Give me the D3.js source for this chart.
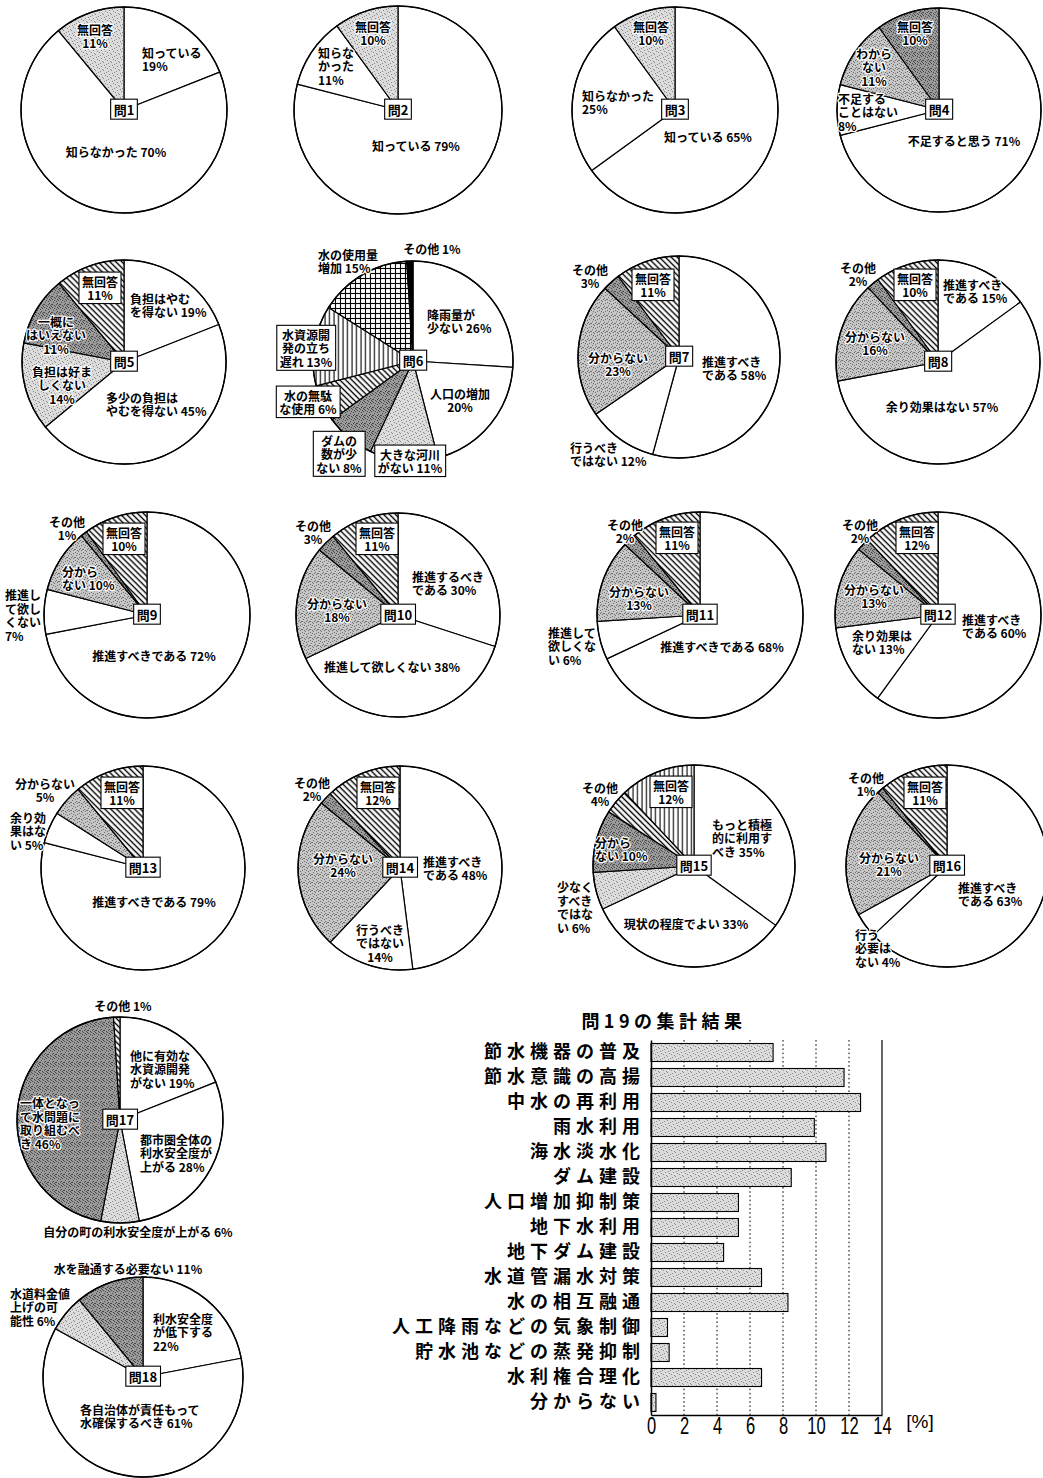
<!DOCTYPE html>
<html>
<head>
<meta charset="utf-8">
<script src="https://cdn.jsdelivr.net/npm/d3@7"></script>
<style>
  body { margin: 0; background: #fff; }
  svg { display: block; }
  .jp { font-family: 'Noto Sans CJK JP', sans-serif; }
</style>
</head>
<body>
<svg id="chart" width="1043" height="1478"></svg>
<script>
// ---- survey answers (percent) ----
const q1Cats = ["知っている", "知らなかった", "無回答"];
const q1Vals = [19, 70, 11];
const q2Cats = ["知っている", "知らなかった", "無回答"];
const q2Vals = [79, 11, 10];
const q3Cats = ["知っている", "知らなかった", "無回答"];
const q3Vals = [65, 25, 10];
const q4Cats = ["不足すると思う", "不足することはない", "わからない", "無回答"];
const q4Vals = [71, 8, 11, 10];
const q5Cats = ["負担はやむを得ない", "多少の負担はやむを得ない", "負担は好ましくない", "一概にはいえない", "無回答"];
const q5Vals = [19, 45, 14, 11, 11];
const q6Cats = ["降雨量が少ない", "人口の増加", "大きな河川がない", "ダムの数が少ない", "水の無駄な使用", "水資源開発の立ち遅れ", "水の使用量増加", "その他"];
const q6Vals = [26, 20, 11, 8, 6, 13, 15, 1];
const q7Cats = ["推進すべきである", "行うべきではない", "分からない", "その他", "無回答"];
const q7Vals = [58, 12, 23, 3, 11];
const q8Cats = ["推進すべきである", "余り効果はない", "分からない", "その他", "無回答"];
const q8Vals = [15, 57, 16, 2, 10];
const q9Cats = ["推進すべきである", "推進して欲しくない", "分からない", "その他", "無回答"];
const q9Vals = [72, 7, 10, 1, 10];
const q10Cats = ["推進するべきである", "推進して欲しくない", "分からない", "その他", "無回答"];
const q10Vals = [30, 38, 18, 3, 11];
const q11Cats = ["推進すべきである", "推進して欲しくない", "分からない", "その他", "無回答"];
const q11Vals = [68, 6, 13, 2, 11];
const q12Cats = ["推進すべきである", "余り効果はない", "分からない", "その他", "無回答"];
const q12Vals = [60, 13, 13, 2, 12];
const q13Cats = ["推進すべきである", "余り効果はない", "分からない", "無回答"];
const q13Vals = [79, 5, 5, 11];
const q14Cats = ["推進すべきである", "行うべきではない", "分からない", "その他", "無回答"];
const q14Vals = [48, 14, 24, 2, 12];
const q15Cats = ["もっと積極的に利用すべき", "現状の程度でよい", "少なくすべきではない", "分からない", "その他", "無回答"];
const q15Vals = [35, 33, 6, 10, 4, 12];
const q16Cats = ["推進すべきである", "行う必要はない", "分からない", "その他", "無回答"];
const q16Vals = [63, 4, 21, 1, 11];
const q17Cats = ["他に有効な水資源開発がない", "都市圏全体の利水安全度が上がる", "自分の町の利水安全度が上がる", "一体となって水問題に取り組むべき", "その他"];
const q17Vals = [19, 28, 6, 46, 1];
const q18Cats = ["利水安全度が低下する", "各自治体が責任もって水確保するべき", "水道料金値上げの可能性", "水を融通する必要ない"];
const q18Vals = [22, 61, 6, 11];

const q19Title = "問19の集計結果";
const q19Cats = ["節水機器の普及", "節水意識の高揚", "中水の再利用", "雨水利用", "海水淡水化", "ダム建設",
  "人口増加抑制策", "地下水利用", "地下ダム建設", "水道管漏水対策", "水の相互融通",
  "人工降雨などの気象制御", "貯水池などの蒸発抑制", "水利権合理化", "分からない"];
const q19Vals = [7.4, 11.7, 12.7, 9.9, 10.6, 8.5, 5.3, 5.3, 4.4, 6.7, 8.3, 1.0, 1.1, 6.7, 0.3];
const q19Ticks = [0, 2, 4, 6, 8, 10, 12, 14];
const q19Unit = "[%]";

const pieCats = [q1Cats, q2Cats, q3Cats, q4Cats, q5Cats, q6Cats, q7Cats, q8Cats, q9Cats,
  q10Cats, q11Cats, q12Cats, q13Cats, q14Cats, q15Cats, q16Cats, q17Cats, q18Cats];
const pieVals = [q1Vals, q2Vals, q3Vals, q4Vals, q5Vals, q6Vals, q7Vals, q8Vals, q9Vals,
  q10Vals, q11Vals, q12Vals, q13Vals, q14Vals, q15Vals, q16Vals, q17Vals, q18Vals];

// ---- layout: pie placement, slice fills, label placement ----
// label: [dx, dy, line-break indices, percent on its own line, anchor (s/m), boxed]
const pieLayout = [
  {cx:124, cy:110, r:103, fills:"wwl", lab:[[18,-50,[],1,'s'],[-8,43,[],0,'m'],[-29,-73,[],1,'m']]},
  {cx:398, cy:110, r:104, fills:"wwl", lab:[[18,37,[],0,'m'],[-80,-43,[3],1,'s'],[-25,-76,[],1,'m']]},
  {cx:675, cy:110, r:103, fills:"wwl", lab:[[33,28,[],0,'m'],[-93,-7,[],1,'s'],[-24,-76,[],1,'m']]},
  {cx:939, cy:110, r:102, fills:"wwmd", lab:[[25,32,[],0,'m'],[-101,3,[4],1,'s'],[-65,-42,[3],1,'m'],[-24,-76,[],1,'m']]},
  {cx:124, cy:362, r:102, fills:"wwldh", lab:[[6,-56,[5],0,'s'],[-18,43,[6],0,'s'],[-62,24,[5],1,'m'],[-68,-26,[3],1,'m'],[-24,-73,[],1,'m',1]]},
  {cx:413, cy:361, r:100, fills:"wwldhvgk", lab:[[14,-39,[4],0,'s'],[47,40,[],1,'m'],[-3,101,[5],0,'m',1],[-74,94,[3,6],0,'m',1],[-105,42,[4],0,'m',1],[-107,-12,[4,8],0,'m',1],[-95,-99,[5],0,'s'],[19,-111,[],0,'m']]},
  {cx:679, cy:357, r:101, fills:"wwmdh", lab:[[23,12,[5],0,'s'],[-109,98,[4],0,'s'],[-61,8,[],1,'m'],[-89,-80,[],1,'m'],[-26,-71,[],1,'m',1]]},
  {cx:938, cy:362, r:102, fills:"wwmdh", lab:[[5,-70,[5],0,'s'],[4,46,[],0,'m'],[-63,-18,[],1,'m'],[-80,-87,[],1,'m'],[-23,-76,[],1,'m',1]]},
  {cx:147, cy:615, r:103, fills:"wwmdh", lab:[[7,42,[],0,'m'],[-142,1,[3,6],1,'s'],[-85,-36,[3],0,'s'],[-80,-86,[],1,'m'],[-23,-75,[],1,'m',1]]},
  {cx:398, cy:615, r:102, fills:"wwmdh", lab:[[14,-31,[6],0,'s'],[-6,53,[],0,'m'],[-61,-4,[],1,'m'],[-85,-82,[],1,'m'],[-21,-75,[],1,'m',1]]},
  {cx:700, cy:615, r:103, fills:"wwmdh", lab:[[22,33,[],0,'m'],[-152,32,[4,8],0,'s'],[-61,-16,[],1,'m'],[-75,-83,[],1,'m'],[-23,-76,[],1,'m',1]]},
  {cx:938, cy:615, r:103, fills:"wwmdh", lab:[[24,12,[5],0,'s'],[-86,28,[5],0,'s'],[-64,-18,[],1,'m'],[-78,-83,[],1,'m'],[-21,-76,[],1,'m',1]]},
  {cx:143, cy:868, r:102, fills:"wwmh", lab:[[11,35,[],0,'m'],[-133,-36,[3,6],0,'s'],[-98,-77,[],1,'m'],[-21,-74,[],1,'m',1]]},
  {cx:400, cy:868, r:102, fills:"wwmdh", lab:[[23,1,[5],0,'s'],[-20,76,[4],1,'m'],[-57,-2,[],1,'m'],[-88,-78,[],1,'m'],[-22,-74,[],1,'m',1]]},
  {cx:694, cy:866, r:101, fills:"wwldhv", lab:[[18,-27,[5,10],0,'s'],[-8,59,[],0,'m'],[-137,42,[3,6,9],0,'s'],[-99,-16,[3],0,'s'],[-94,-71,[],1,'m'],[-23,-73,[],1,'m',1]]},
  {cx:947, cy:866, r:101, fills:"wwmdh", lab:[[11,29,[5],0,'s'],[-92,83,[2,5],0,'s'],[-58,-1,[],1,'m'],[-81,-81,[],1,'m'],[-22,-72,[],1,'m',1]]},
  {cx:120, cy:1120, r:103, fills:"wwldh", lab:[[10,-50,[5,10],0,'s'],[20,34,[6,12],0,'s'],[18,113,[],0,'m'],[-100,4,[5,10,15],0,'s'],[3,-113,[],0,'m']]},
  {cx:143, cy:1377, r:100, fills:"wwld", lab:[[10,-44,[5],1,'s'],[-63,40,[10],0,'s'],[-133,-69,[5,9],0,'s'],[-15,-107,[],0,'m']]}
];

const svg = d3.select("#chart");
svg.append("rect").attr("width", 1043).attr("height", 1478).attr("fill", "#fff");
const defs = svg.append("defs");

// stippled grey screens
function stipple(id, bg, ink, dots) {
  const p = defs.append("pattern").attr("id", id)
    .attr("patternUnits", "userSpaceOnUse").attr("width", 8).attr("height", 8);
  p.append("rect").attr("width", 8).attr("height", 8).attr("fill", bg);
  p.selectAll("rect.dot").data(dots).join("rect").attr("class", "dot")
    .attr("x", d => d[0]).attr("y", d => d[1]).attr("width", 1).attr("height", 1).attr("fill", ink);
}
stipple("stL", "#dcdcdc", "#8a8a8a", [[0,1],[3,0],[6,2],[1,4],[5,5],[2,7],[7,6],[4,3]]);
stipple("stM", "#c6c6c6", "#707070", [[0,1],[3,0],[6,2],[1,4],[5,5],[2,7],[7,6],[4,3],[2,2],[6,7],[0,6],[4,6]]);
stipple("stD", "#9a9a9a", "#4a4a4a", [[0,1],[3,0],[6,2],[1,4],[5,5],[2,7],[7,6],[4,3],[2,2],[6,7],[0,6],[4,6],[7,0],[5,1]]);

// line hatches
const ph = defs.append("pattern").attr("id", "hatch").attr("patternUnits", "userSpaceOnUse")
  .attr("width", 4.2).attr("height", 4.2).attr("patternTransform", "rotate(-45)");
ph.append("rect").attr("width", 4.2).attr("height", 4.2).attr("fill", "#fff");
ph.append("line").attr("x1", 2.1).attr("x2", 2.1).attr("y1", 0).attr("y2", 4.2).attr("stroke", "#000").attr("stroke-width", 1.4);

const pv = defs.append("pattern").attr("id", "vert").attr("patternUnits", "userSpaceOnUse")
  .attr("width", 4.5).attr("height", 4.5);
pv.append("rect").attr("width", 4.5).attr("height", 4.5).attr("fill", "#fff");
pv.append("line").attr("x1", 2).attr("x2", 2).attr("y1", 0).attr("y2", 4.5).attr("stroke", "#000").attr("stroke-width", 1.1);

const pg = defs.append("pattern").attr("id", "grid").attr("patternUnits", "userSpaceOnUse")
  .attr("width", 5).attr("height", 5);
pg.append("rect").attr("width", 5).attr("height", 5).attr("fill", "#fff");
pg.append("line").attr("x1", 2.5).attr("x2", 2.5).attr("y1", 0).attr("y2", 5).attr("stroke", "#000").attr("stroke-width", 1.1);
pg.append("line").attr("y1", 2.5).attr("y2", 2.5).attr("x1", 0).attr("x2", 5).attr("stroke", "#000").attr("stroke-width", 1.1);

const FILL = { w: "#fff", l: "url(#stL)", m: "url(#stM)", d: "url(#stD)",
  h: "url(#hatch)", v: "url(#vert)", g: "url(#grid)", k: "#000" };

const LH = 13.5;
const pieGen = d3.pie().sort(null).value(d => d);

function labelLines(cat, val, split, pctOwnLine) {
  const parts = [];
  let prev = 0;
  split.forEach(s => { parts.push(cat.slice(prev, s)); prev = s; });
  parts.push(cat.slice(prev));
  const pct = val + "%";
  if (pctOwnLine) parts.push(pct); else parts[parts.length - 1] += " " + pct;
  return parts;
}

function textBlock(g, x, y, lines, anchor, boxed, size) {
  const grp = g.append("g");
  const t = grp.append("text").attr("class", "jp")
    .attr("font-size", size).attr("font-weight", 700)
    .attr("text-anchor", anchor === 's' ? "start" : "middle")
    .attr("fill", "#000");
  if (!boxed) {
    t.attr("stroke", "#fff").attr("stroke-width", 2.4)
      .attr("stroke-linejoin", "round").attr("paint-order", "stroke");
  }
  const n = lines.length;
  lines.forEach((ln, k) => {
    t.append("tspan").attr("x", x).attr("y", y + (k - (n - 1) / 2) * LH)
      .attr("dy", "0.36em").text(ln);
  });
  if (boxed) {
    const bb = t.node().getBBox();
    grp.insert("rect", "text")
      .attr("x", bb.x - 3).attr("y", bb.y - 0.5)
      .attr("width", bb.width + 6).attr("height", bb.height + 1)
      .attr("fill", "#fff").attr("stroke", "#000").attr("stroke-width", 1.1);
  }
  return grp;
}

pieLayout.forEach((p, qi) => {
  const cats = pieCats[qi], vals = pieVals[qi];
  const g = svg.append("g").attr("transform", `translate(${p.cx},${p.cy})`);
  const arcs = pieGen(vals);
  const arc = d3.arc().innerRadius(0).outerRadius(p.r);
  g.selectAll("path.slice").data(arcs).join("path").attr("class", "slice")
    .attr("d", arc)
    .attr("fill", (d, i) => FILL[p.fills[i]])
    .attr("stroke", "#000").attr("stroke-width", 1.2).attr("stroke-linejoin", "round");
  g.append("circle").attr("r", p.r).attr("fill", "none").attr("stroke", "#000").attr("stroke-width", 1.4);

  arcs.forEach((a, i) => {
    const L = p.lab[i];
    const lines = labelLines(cats[i], vals[i], L[2], L[3]);
    textBlock(g, L[0], L[1], lines, L[4], !!L[5], 12);
  });

  // question number tag at the centre
  textBlock(g, 0, 0, ["問" + (qi + 1)], 'm', true, 13);
});

// ---- Q19 bar chart ----
const xB = d3.scaleLinear().domain([0, 14]).range([651, 882]);
const yB = d3.scaleBand().domain(q19Cats).range([1040, 1415]).paddingInner(0.28).paddingOuter(0.14);
const plotTop = 1040, plotBottom = 1415;

svg.append("text").attr("class", "jp")
  .attr("x", 664).attr("y", 1022).attr("dy", "0.36em")
  .attr("text-anchor", "middle").attr("font-size", 18).attr("font-weight", 700)
  .attr("letter-spacing", 4.5).text(q19Title);

svg.append("g").selectAll("line").data(q19Ticks.filter(t => t > 0 && t < 14)).join("line")
  .attr("x1", d => xB(d)).attr("x2", d => xB(d)).attr("y1", plotTop).attr("y2", plotBottom)
  .attr("stroke", "#000").attr("stroke-width", 1).attr("stroke-dasharray", "1.6,2.6");
svg.append("line").attr("x1", xB(14)).attr("x2", xB(14)).attr("y1", plotTop).attr("y2", plotBottom)
  .attr("stroke", "#000").attr("stroke-width", 1.2);

svg.append("g").selectAll("rect").data(q19Vals).join("rect")
  .attr("x", xB(0)).attr("y", (d, i) => yB(q19Cats[i]))
  .attr("width", d => xB(d) - xB(0)).attr("height", yB.bandwidth())
  .attr("fill", "url(#stL)").attr("stroke", "#000").attr("stroke-width", 1.1);

const yAx = svg.append("g").attr("transform", `translate(${xB(0)},0)`)
  .call(d3.axisLeft(yB).tickSize(0).tickPadding(6));
yAx.select(".domain").attr("stroke-width", 1.5);
yAx.selectAll("text").attr("class", "jp").attr("font-size", 18).attr("font-weight", 700)
  .attr("letter-spacing", 5).attr("fill", "#000");

const xAx = svg.append("g").attr("transform", `translate(0,${plotBottom})`)
  .call(d3.axisBottom(xB).tickValues(q19Ticks).tickSize(0).tickPadding(3).tickFormat(d3.format("d")));
xAx.select(".domain").attr("stroke-width", 1.5);
xAx.selectAll("text").attr("font-family", "'Liberation Sans Narrow', 'Liberation Sans', sans-serif")
  .attr("font-size", 23).attr("transform", "scale(0.72,1)").attr("fill", "#000");

svg.append("text").attr("x", 920).attr("y", 1421).attr("dy", "0.36em")
  .attr("text-anchor", "middle")
  .attr("font-family", "'Liberation Sans Narrow', 'Liberation Sans', sans-serif").attr("font-size", 19)
  .text(q19Unit);
</script>
</body>
</html>
